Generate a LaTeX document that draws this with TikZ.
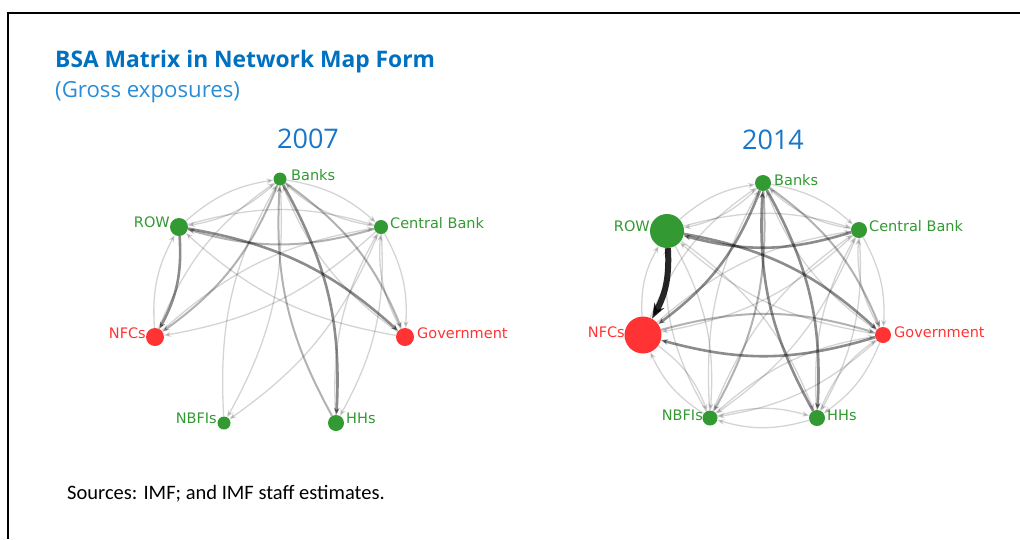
\documentclass[tikz,border=0pt]{standalone}
\usepackage{fontspec}
\setmainfont{Open Sans}
\newfontfamily\labelfont{DejaVu Sans}
\newfontfamily\notefont{Carlito}
\usetikzlibrary{arrows.meta}

\definecolor{titleblue}{RGB}{0,112,192}
\definecolor{subblue}{RGB}{40,140,215}
\definecolor{yearblue}{RGB}{25,118,200}
\definecolor{sectorgreen}{RGB}{51,153,51}
\definecolor{sectorred}{RGB}{255,51,51}

\begin{document}
\begin{tikzpicture}[x=1pt, y=-1pt, >={Stealth[length=7pt, width=5.5pt]},
    green sector/.style={circle, inner sep=0pt, fill=sectorgreen},
    red sector/.style={circle, inner sep=0pt, fill=sectorred},
    green name/.style={text=sectorgreen, inner sep=0pt, font=\labelfont\fontsize{14.5}{16}\selectfont},
    red name/.style={text=sectorred, inner sep=0pt, font=\labelfont\fontsize{14.5}{16}\selectfont},
    year/.style={text=yearblue, inner sep=0pt, anchor=base, font=\fontsize{27}{30}\selectfont},
    light/.style={->, bend left=16, line width=1.3pt, draw=black, opacity=0.17},
    mid/.style={->, bend left=16, line width=2pt, draw=black, opacity=0.3},
    dark/.style={->, bend left=16, line width=2.6pt, draw=black, opacity=0.45},
    heavy/.style={-{Stealth[length=15pt, width=11pt]}, bend left=16, line width=6pt, draw=black, opacity=0.85}]
    \useasboundingbox (0, 0) rectangle (1020, 539);
    \draw[line width=2pt] (1020, 13) -- (8, 13) -- (8, 539);

    \node[anchor=base west, inner sep=0pt, text=titleblue, font=\bfseries\fontsize{22.8}{26}\selectfont] (Title) at (55, 67) {BSA Matrix in Network Map Form};
    \node[anchor=base west, inner sep=0pt, text=subblue, font=\fontsize{22.2}{26}\selectfont] (Subtitle) at (55, 97) {(Gross exposures)};
    \node[anchor=base west, inner sep=0pt, font=\notefont\fontsize{20.5}{24}\selectfont] (Sources) at (67, 499) {Sources: IMF; and IMF staff estimates.};

    % 2007
    \node[year] (Year07) at (308, 148) {2007};
    \node[green sector, minimum size=13pt] (Banks07) at (280, 179) {};
    \node[green sector, minimum size=18pt] (ROW07) at (179, 227) {};
    \node[green sector, minimum size=14pt] (CB07) at (381, 227) {};
    \node[red sector, minimum size=18pt] (NFCs07) at (155, 337) {};
    \node[red sector, minimum size=18pt] (Gov07) at (405, 337) {};
    \node[green sector, minimum size=13pt] (NBFIs07) at (224, 423) {};
    \node[green sector, minimum size=16pt] (HHs07) at (336, 423) {};
    \node[green name, anchor=west] (Banks07 name) at (291, 175) {Banks};
    \node[green name, anchor=east] (ROW07 name) at (170, 222) {ROW};
    \node[green name, anchor=west] (CB07 name) at (390, 223) {Central Bank};
    \node[red name, anchor=east] (NFCs07 name) at (146, 333) {NFCs};
    \node[red name, anchor=west] (Gov07 name) at (417, 333) {Government};
    \node[green name, anchor=east] (NBFIs07 name) at (217, 418) {NBFIs};
    \node[green name, anchor=west] (HHs07 name) at (346, 418) {HHs};
    \foreach \a/\b in {Banks07/ROW07, ROW07/Banks07, Banks07/CB07, CB07/Banks07,
        NFCs07/Banks07, Gov07/Banks07, Banks07/NBFIs07, NBFIs07/Banks07,
        ROW07/CB07, NFCs07/ROW07, Gov07/ROW07, CB07/NFCs07, NFCs07/CB07,
        CB07/Gov07, Gov07/CB07, CB07/NBFIs07, CB07/HHs07, HHs07/CB07}
        \draw[light] (\a) to (\b);
    \foreach \a/\b in {Banks07/Gov07, HHs07/Banks07, CB07/ROW07, Banks07/NFCs07}
        \draw[mid] (\a) to (\b);
    \foreach \a/\b in {Banks07/HHs07, ROW07/NFCs07, ROW07/Gov07}
        \draw[dark] (\a) to (\b);

    % 2014
    \node[year] (Year14) at (773, 149) {2014};
    \node[green sector, minimum size=16pt] (Banks14) at (763, 183) {};
    \node[green sector, minimum size=34pt] (ROW14) at (667, 231) {};
    \node[green sector, minimum size=16pt] (CB14) at (859, 230) {};
    \node[red sector, minimum size=37pt] (NFCs14) at (643, 335) {};
    \node[red sector, minimum size=16pt] (Gov14) at (883, 335) {};
    \node[green sector, minimum size=15pt] (NBFIs14) at (710, 418) {};
    \node[green sector, minimum size=16pt] (HHs14) at (817, 418) {};
    \node[green name, anchor=west] (Banks14 name) at (774, 180) {Banks};
    \node[green name, anchor=east] (ROW14 name) at (650, 226) {ROW};
    \node[green name, anchor=west] (CB14 name) at (869, 226) {Central Bank};
    \node[red name, anchor=east] (NFCs14 name) at (625, 332) {NFCs};
    \node[red name, anchor=west] (Gov14 name) at (894, 332) {Government};
    \node[green name, anchor=east] (NBFIs14 name) at (703, 415) {NBFIs};
    \node[green name, anchor=west] (HHs14 name) at (827, 415) {HHs};
    \foreach \a/\b in {Banks14/ROW14, ROW14/Banks14, Banks14/CB14, CB14/Banks14,
        NFCs14/Banks14, Gov14/Banks14, NBFIs14/Banks14, NFCs14/ROW14,
        ROW14/CB14, Gov14/ROW14, ROW14/NBFIs14, NBFIs14/ROW14, ROW14/HHs14,
        CB14/NFCs14, NFCs14/CB14, CB14/Gov14, Gov14/CB14, CB14/NBFIs14,
        NBFIs14/CB14, CB14/HHs14, HHs14/CB14, NFCs14/NBFIs14, NBFIs14/NFCs14,
        Gov14/NBFIs14, NBFIs14/Gov14, Gov14/HHs14, HHs14/Gov14,
        NBFIs14/HHs14, HHs14/NBFIs14}
        \draw[light] (\a) to (\b);
    \foreach \a/\b in {Banks14/Gov14, Banks14/NBFIs14, NFCs14/Gov14}
        \draw[mid] (\a) to (\b);
    \foreach \a/\b in {Banks14/NFCs14, Banks14/HHs14, HHs14/Banks14,
        CB14/ROW14, ROW14/Gov14, Gov14/NFCs14}
        \draw[dark] (\a) to (\b);
    \draw[heavy] (ROW14) to (NFCs14);
\end{tikzpicture}
\end{document}
